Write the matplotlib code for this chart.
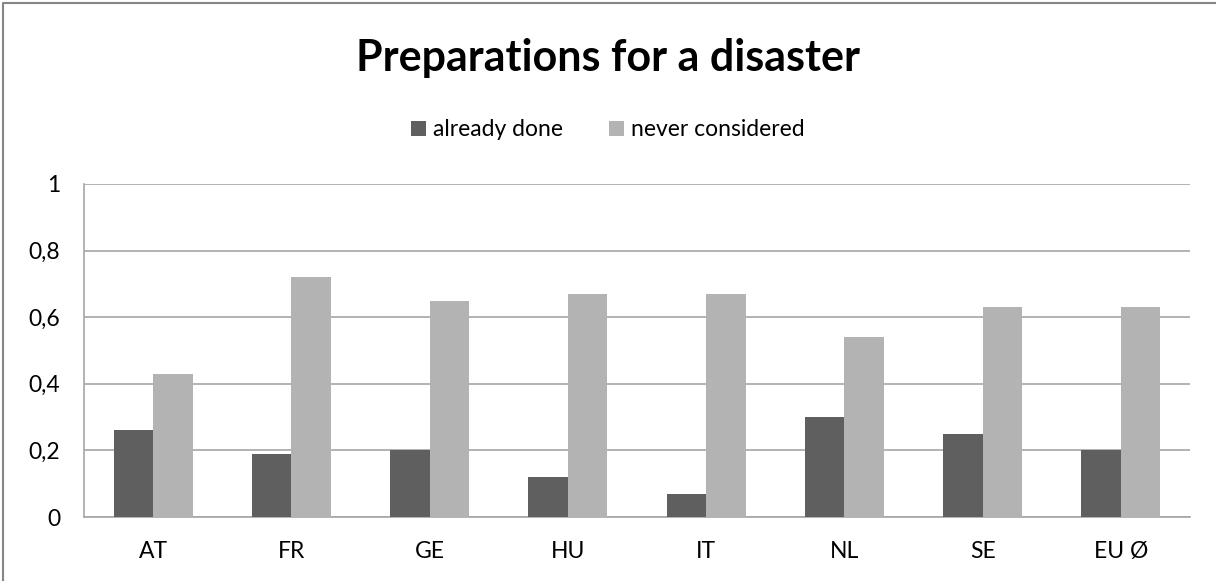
import matplotlib.pyplot as plt
import numpy as np
from matplotlib.lines import Line2D

plt.rcParams['font.family'] = ['Lato', 'DejaVu Sans']

countries = ["AT", "FR", "GE", "HU", "IT", "NL", "SE", "EU Ø"]
already_done = [0.26, 0.19, 0.20, 0.12, 0.07, 0.30, 0.25, 0.20]
never_considered = [0.43, 0.72, 0.65, 0.67, 0.67, 0.54, 0.63, 0.63]
yticks = [0, 0.2, 0.4, 0.6, 0.8, 1]
ytick_labels = ["0", "0,2", "0,4", "0,6", "0,8", "1"]

fig = plt.figure(figsize=(12.16, 5.81), dpi=100)
ax = fig.add_axes([84/1216, 1-517/581, (1190-84)/1216, (517-184)/581])

x = np.arange(len(countries))
w = 1/3.5
ax.bar(x - w/2, already_done, w, color="#5f5f5f", label="already done", zorder=3)
ax.bar(x + w/2, never_considered, w, color="#b3b3b3", label="never considered", zorder=3)

ax.set_xlim(-0.5, len(countries) - 0.5)
ax.set_ylim(0, 1)
ax.set_yticks(yticks)
ax.set_yticklabels(ytick_labels)
ax.set_xticks(x)
ax.set_xticklabels(countries)
ax.tick_params(axis="both", length=0, labelsize=16.5, colors="#000000")
ax.tick_params(axis="y", pad=17)
ax.tick_params(axis="x", pad=17)
ax.yaxis.grid(True, color="#a6a6a6", linewidth=1.2, zorder=0)
for side in ["top", "right"]:
    ax.spines[side].set_visible(False)
for side in ["left", "bottom"]:
    ax.spines[side].set_color("#a6a6a6")
    ax.spines[side].set_linewidth(1.2)

fig.text(0.5, 1-58/581, "Preparations for a disaster", ha="center", va="center",
         fontsize=31, fontweight="bold")
fig.legend(loc="center", bbox_to_anchor=(0.5, 1-130/581), ncol=2, frameon=False,
           fontsize=16.5, handlelength=0.65, handleheight=0.65, handletextpad=0.3,
           columnspacing=2.0)

# outer chart frame: only left and top edges fall inside the image
fx, fy = 3/1216, 1-3/581
fig.add_artist(Line2D([fx, fx, 1.0], [0.0, fy, fy], transform=fig.transFigure,
                      color="#868686", linewidth=1.5))

fig.savefig("out.png", dpi=100)
